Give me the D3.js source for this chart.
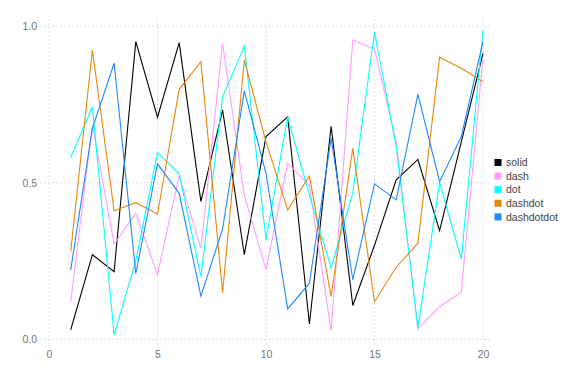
<!DOCTYPE html>
<html><head><meta charset="utf-8">
<script src="https://cdn.jsdelivr.net/npm/d3@7"></script>
<style>body{margin:0;background:#fff}svg{display:block}text{font-family:"Liberation Sans",Arial,sans-serif}</style>
</head><body><svg id="c" width="576" height="384"></svg>
<script>
const xs = d3.range(1, 21);
const seriesNames = ["solid", "dash", "dot", "dashdot", "dashdotdot"];
const solid = [0.03,0.27,0.216,0.95,0.709,0.947,0.44,0.732,0.27,0.647,0.71,0.049,0.68,0.108,0.30,0.509,0.574,0.347,0.63,0.913];
const dash = [0.12,0.684,0.304,0.402,0.207,0.524,0.29,0.945,0.46,0.223,0.562,0.49,0.027,0.955,0.926,0.63,0.033,0.104,0.15,0.90];
const dot = [0.58,0.742,0.014,0.25,0.596,0.528,0.2,0.774,0.936,0.317,0.71,0.46,0.228,0.467,0.98,0.615,0.036,0.5,0.256,0.987];
const dashdot = [0.28,0.923,0.41,0.436,0.4,0.798,0.886,0.149,0.891,0.63,0.413,0.521,0.136,0.61,0.12,0.23,0.306,0.9,0.865,0.822];
const dashdotdot = [0.221,0.673,0.881,0.21,0.56,0.466,0.138,0.352,0.793,0.53,0.097,0.179,0.642,0.19,0.496,0.445,0.782,0.503,0.647,0.95];
const colors = ["#000000", "#ff9cff", "#00ffff", "#e8870c", "#1e88ff"];
const xTicks = [0, 5, 10, 15, 20];
const yTicks = [0, 0.5, 1.0];
const allSeries = [solid, dash, dot, dashdot, dashdotdot];

const svg = d3.select("#c");
const x = d3.scaleLinear().domain([0, 20]).range([49, 483]);
const y = d3.scaleLinear().domain([0, 1]).range([339.3, 26]);
const pLeft = 40, pRight = 490, pTop = 19, pBottom = 346;

const grid = svg.append("g").attr("stroke", "#dcdcea").attr("stroke-width", 1).attr("stroke-dasharray", "2,2");
xTicks.forEach(t => grid.append("line").attr("x1", x(t)).attr("x2", x(t)).attr("y1", pTop).attr("y2", pBottom));
yTicks.forEach(t => grid.append("line").attr("x1", pLeft).attr("x2", pRight).attr("y1", y(t)).attr("y2", y(t)));

const xAxis = svg.append("g").attr("transform", `translate(0,${pBottom})`)
  .call(d3.axisBottom(x).tickValues(xTicks).tickFormat(d3.format("d")).tickSize(0).tickPadding(5));
const yAxis = svg.append("g").attr("transform", `translate(${pLeft},0)`)
  .call(d3.axisLeft(y).tickValues(yTicks).tickFormat(d3.format(".1f")).tickSize(0).tickPadding(3));
[xAxis, yAxis].forEach(a => {
  a.select(".domain").remove();
  a.selectAll("text").attr("fill", "#777").style("font-size", "10.5px").style("font-family", "'Liberation Sans', Arial, sans-serif");
});

const line = d3.line().x((d, i) => x(xs[i])).y(d => y(d));
allSeries.forEach((s, k) => {
  svg.append("path").datum(s).attr("d", line).attr("fill", "none")
    .attr("stroke", colors[k]).attr("stroke-width", 1.1);
});

const leg = svg.append("g");
seriesNames.forEach((n, k) => {
  const yy = 162.5 + k * 13.6;
  leg.append("rect").attr("x", 494.5).attr("y", yy - 3.5).attr("width", 7).attr("height", 7).attr("fill", colors[k]);
  leg.append("text").attr("x", 506).attr("y", yy).attr("dy", "0.35em").attr("fill", "#444")
    .style("font-size", "10.5px").text(n);
});
</script></body></html>
